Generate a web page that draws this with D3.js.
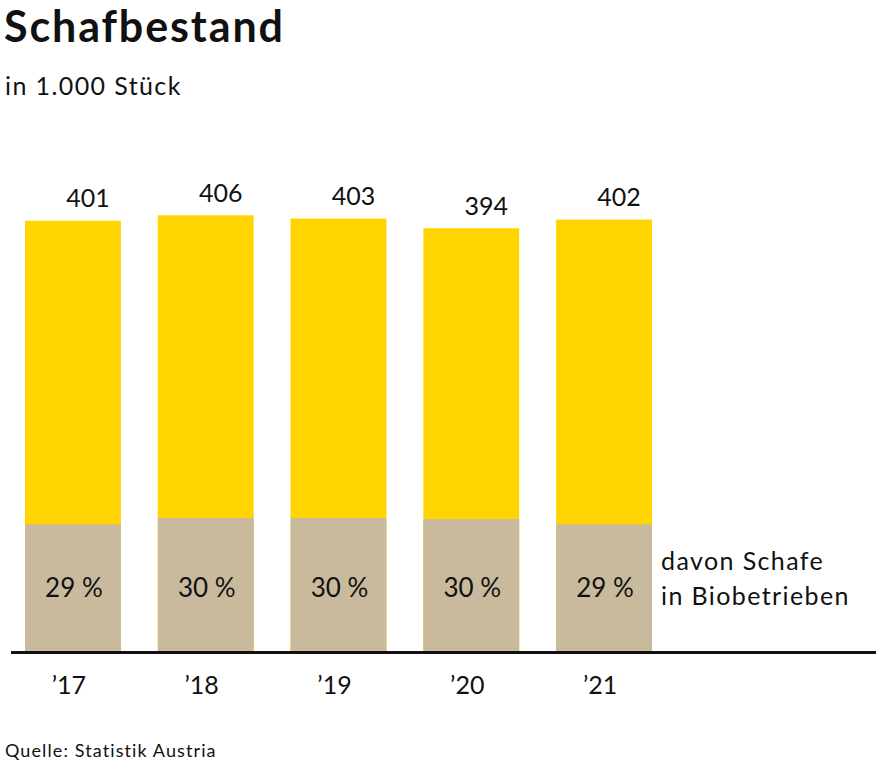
<!DOCTYPE html>
<html>
<head>
<meta charset="utf-8">
<script src="https://cdn.jsdelivr.net/npm/d3@7"></script>
<style>
  body { margin: 0; background: #fff; }
  text { font-family: Lato, 'Open Sans', sans-serif; fill: #111; }
</style>
</head>
<body>
<div id="app"></div>
<script>
// data (in 1.000 Stück)
const years = ['’17', '’18', '’19', '’20', '’21'];
const total = [401, 406, 403, 394, 402];
const bio = [119, 125, 125, 124, 119];
const bioPct = ['29 %', '30 %', '30 %', '30 %', '29 %'];

const W = 879, H = 767;
const svg = d3.select('#app').append('svg')
  .attr('width', W)
  .attr('height', H);

const baseY = 652.5;

const x = d3.scaleBand()
  .domain(years)
  .range([25, 652])
  .paddingInner(0.278)
  .paddingOuter(0);

const y = d3.scaleLinear()
  .domain([0, 406])
  .range([baseY, baseY - 406 * 1.0768]);

const data = years.map((yr, i) => ({ yr, total: total[i], bio: bio[i], pct: bioPct[i] }));

// title
svg.append('text')
  .attr('x', 4)
  .attr('y', 41.5)
  .attr('font-size', 43)
  .attr('font-weight', 'bold')
  .attr('letter-spacing', 1.9)
  .text('Schafbestand');

svg.append('text')
  .attr('x', 5)
  .attr('y', 94.5)
  .attr('font-size', 25)
  .attr('letter-spacing', 1.4)
  .text('in 1.000 Stück');

// total bars
svg.append('g').selectAll('rect')
  .data(data)
  .enter().append('rect')
    .attr('x', d => x(d.yr))
    .attr('y', d => y(d.total))
    .attr('width', x.bandwidth())
    .attr('height', d => y(0) - y(d.total))
    .attr('fill', '#ffd400');

// bio part
svg.append('g').selectAll('rect')
  .data(data)
  .enter().append('rect')
    .attr('x', d => x(d.yr))
    .attr('y', d => y(d.bio))
    .attr('width', x.bandwidth())
    .attr('height', d => y(0) - y(d.bio))
    .attr('fill', '#c9ba9e');

// value labels
svg.append('g').selectAll('text')
  .data(data)
  .enter().append('text')
    .attr('x', d => x(d.yr) + x.bandwidth() / 2 + 15)
    .attr('y', d => y(d.total) - 13.5)
    .attr('text-anchor', 'middle')
    .attr('font-size', 25)
    .text(d => d.total);

// percent labels
svg.append('g').selectAll('text')
  .data(data)
  .enter().append('text')
    .attr('x', d => x(d.yr) + x.bandwidth() / 2 + 1)
    .attr('y', 596.5)
    .attr('text-anchor', 'middle')
    .attr('font-size', 26)
    .text(d => d.pct);

// baseline
svg.append('line')
  .attr('x1', 11)
  .attr('x2', 876)
  .attr('y1', baseY)
  .attr('y2', baseY)
  .attr('stroke', '#111')
  .attr('stroke-width', 3);

// year labels
svg.append('g').selectAll('text')
  .data(data)
  .enter().append('text')
    .attr('x', d => x(d.yr) + x.bandwidth() / 2 - 4)
    .attr('y', 693.5)
    .attr('text-anchor', 'middle')
    .attr('font-size', 25)
    .text(d => d.yr);

// legend
const leg = svg.append('text')
  .attr('x', 661)
  .attr('y', 570)
  .attr('font-size', 25)
  .attr('letter-spacing', 1.4);
leg.append('tspan').attr('x', 661).text('davon Schafe');
leg.append('tspan').attr('x', 661).attr('dy', 35).text('in Biobetrieben');

// source
svg.append('text')
  .attr('x', 5)
  .attr('y', 757)
  .attr('font-size', 18)
  .attr('letter-spacing', 1.1)
  .text('Quelle: Statistik Austria');
</script>
</body>
</html>
